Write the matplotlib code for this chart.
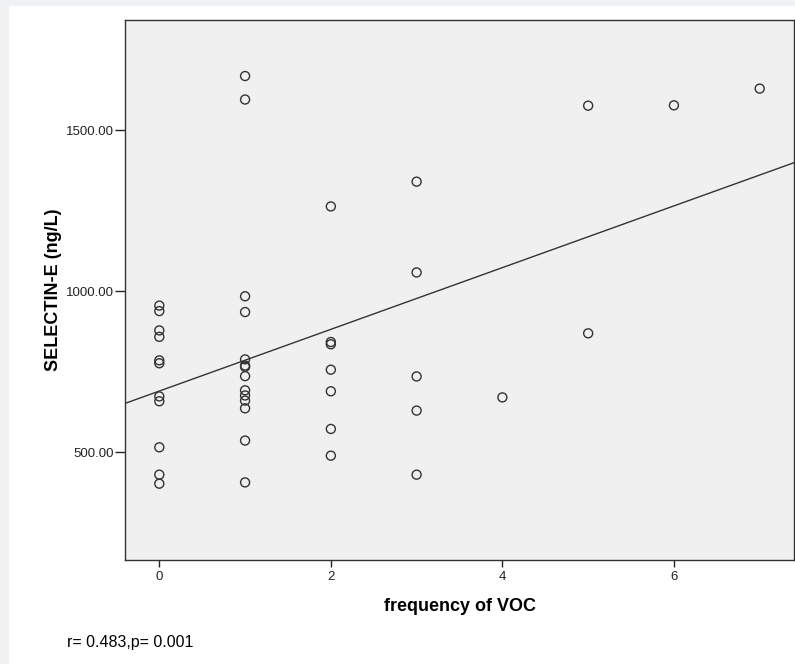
import numpy as np
import matplotlib.pyplot as plt
from matplotlib.patches import Rectangle

plt.rcParams['font.family'] = ['Liberation Sans', 'DejaVu Sans']

# SELECTIN-E (ng/L) values grouped by frequency of VOC
sel_0 = [955, 938, 878, 858, 785, 776, 673, 658, 515, 430, 402]
sel_1 = [1668, 1595, 984, 935, 788, 769, 765, 736, 692, 676, 660, 636, 536, 406]
sel_2 = [1263, 842, 835, 756, 689, 572, 489]
sel_3 = [1340, 1058, 735, 629, 430]
sel_4 = [670]
sel_5 = [1576, 869]
sel_6 = [1577]
sel_7 = [1629]
groups = [sel_0, sel_1, sel_2, sel_3, sel_4, sel_5, sel_6, sel_7]

voc = np.concatenate([[k] * len(g) for k, g in enumerate(groups)])
selectin = np.concatenate(groups)

fig = plt.figure(figsize=(7.95, 6.64), dpi=100, facecolor='#f0f1f3')
fig.patches.append(Rectangle((9 / 795, 0), 1, 1 - 6 / 664, transform=fig.transFigure,
                             facecolor='white', edgecolor='none', zorder=-5))

ax = fig.add_axes([125 / 795, 1 - 560 / 664, 669 / 795, 540 / 664])
ax.set_zorder(2)
ax.set_facecolor('#f0f0f0')

ax.scatter(voc, selectin, s=42, facecolors='none', edgecolors='#333333', linewidths=1.0, zorder=3)

slope, intercept = np.polyfit(voc, selectin, 1)
xl = np.array([-0.4, 7.4])
ax.plot(xl, intercept + slope * xl, color='#333333', lw=1.0, zorder=2)

ax.set_xlim(-0.4, 7.4)
ax.set_ylim(165, 1842)
ax.set_xticks([0, 2, 4, 6])
ax.set_yticks([500, 1000, 1500])
ax.set_yticklabels(['500.00', '1000.00', '1500.00'])
ax.tick_params(axis='x', length=5, width=1, pad=3, labelsize=9.5, colors='#222222')
ax.tick_params(axis='y', length=7, width=1, pad=1, labelsize=9.5, colors='#222222')
for sp in ax.spines.values():
    sp.set_color('#333333')
    sp.set_linewidth(1.0)

ax.set_xlabel('frequency of VOC', fontsize=13, fontweight='bold', labelpad=11)
ax.set_ylabel('SELECTIN-E (ng/L)', fontsize=13, fontweight='bold', labelpad=3)

fig.text(67 / 795, 1 - 643 / 664, 'r= 0.483,p= 0.001', fontsize=11.5, va='center', ha='left')

fig.savefig('out.png', dpi=100, facecolor=fig.get_facecolor())
